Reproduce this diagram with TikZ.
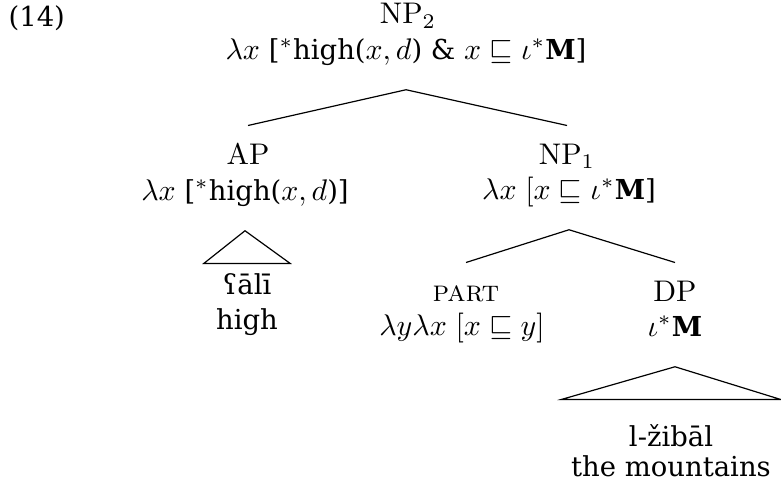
\documentclass[tikz,border=0pt]{standalone}
\usepackage[no-math]{fontspec}
\usepackage{amssymb}
\setmainfont[Scale=0.92]{DejaVu Serif}
\newcommand{\pcaps}[1]{{\fontfamily{lmr}\selectfont\scshape #1}}

\begin{document}
\begin{tikzpicture}[x=0.335pt,y=-0.335pt,font=\normalsize,
  cat/.style={anchor=base,inner sep=0pt,text height=12.7pt,text depth=10.1pt},
  roofleaf/.style 2 args={cat,text height=#1,minimum width=#2},
  branch/.style={line width=.4pt,draw=black}]
\useasboundingbox (0,0) rectangle (781,482);
\node[anchor=base west,inner sep=0pt] (exno) at (8,27) {(14)};
\node[cat] (np2) at (408,24) {$\mathrm{NP}_2$};
\node[cat] (np2sem) at (406,59)
  {$\lambda x$ [$^*$high($x,d$) \& $x\sqsubseteq\iota^*$\textbf{M}]};
\node[cat] (ap) at (248,164) {$\mathrm{AP}$};
\node[cat] (apsem) at (245,200) {$\lambda x$ [$^*$high($x,d$)]};
\node[cat] (np1) at (567,164) {$\mathrm{NP}_1$};
\node[cat] (np1sem) at (569,199) {$\lambda x\ [x\sqsubseteq\iota^*$\textbf{M}]};
\node[roofleaf={10.05pt}{28.5pt}] (ali) at (247,294) {ʕālī};
\node[cat] (aligl) at (247,329) {high};
\node[cat] (part) at (466,301) {\pcaps{part}};
\node[cat] (partsem) at (462,335) {$\lambda y\lambda x\ [x\sqsubseteq y]$};
\node[cat] (dp) at (675,301) {$\mathrm{DP}$};
\node[cat] (dpsem) at (675,336) {$\iota^*$\textbf{M}};
\node[roofleaf={15.4pt}{73pt}] (jibal) at (671,446) {l-žibāl};
\node[cat] (jibalgl) at (671,476) {the mountains};
\draw[branch] (ap.north) -- (np2sem.south) -- (np1.north);
\draw[branch] (part.north) -- (np1sem.south) -- (dp.north);
\draw[branch] (apsem.south) -- (ali.north west) -- (ali.north east) -- cycle;
\draw[branch] (dpsem.south) -- (jibal.north west) -- (jibal.north east) -- cycle;
\end{tikzpicture}
\end{document}
